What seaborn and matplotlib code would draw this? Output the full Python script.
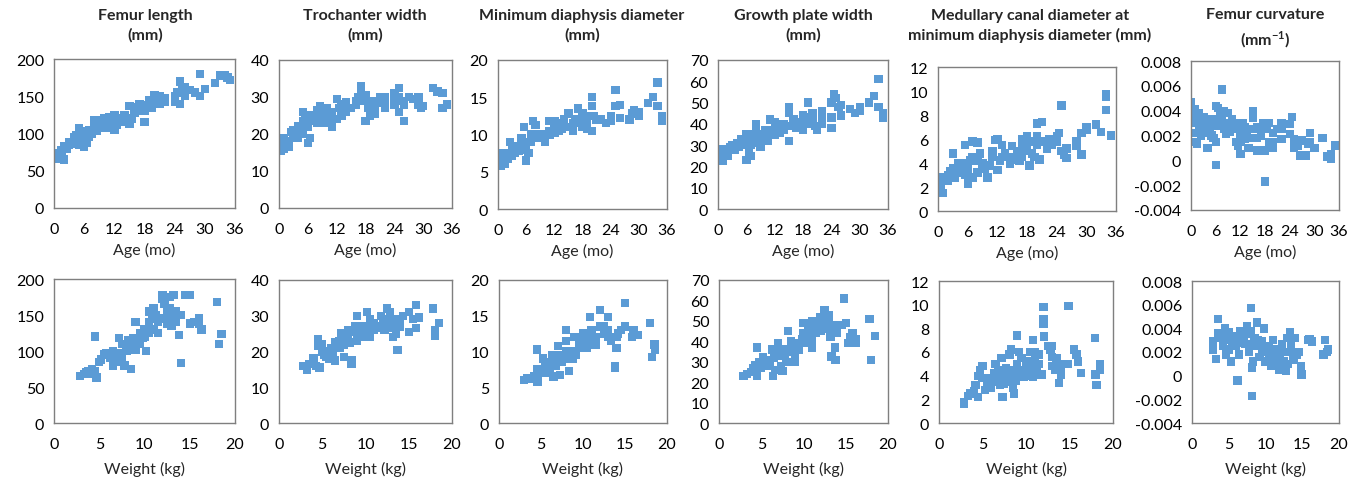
import matplotlib
matplotlib.use("Agg")
import matplotlib.pyplot as plt
import seaborn as sns

# ---------------- data ----------------
titles = ["Femur length\n(mm)", "Trochanter width\n(mm)", "Minimum diaphysis diameter\n(mm)",
          "Growth plate width\n(mm)", "Medullary canal diameter at\nminimum diaphysis diameter (mm)",
          "Femur curvature\n(mm$^{\\mathregular{-1}}$)"]
age_ticks = [0, 6, 12, 18, 24, 30, 36]
weight_ticks = [0, 5, 10, 15, 20]
y_ticks = [[0, 50, 100, 150, 200], [0, 10, 20, 30, 40], [0, 5, 10, 15, 20],
           [0, 10, 20, 30, 40, 50, 60, 70], [0, 2, 4, 6, 8, 10, 12],
           [-0.004, -0.002, 0, 0.002, 0.004, 0.006, 0.008]]
y_ticklabels = [None, None, None, None, None,
                ["-0.004", "-0.002", "0", "0.002", "0.004", "0.006", "0.008"]]

# Femur length
fl_age = [0, 0.5, 1, 1, 1.5, 2, 2, 2.5, 3, 3.5, 4, 4.5, 5, 5, 5, 5.5, 6, 6, 6, 6.5, 7, 7, 7.5, 8, 8, 8.5, 9, 9,
          10, 10, 10.5, 11, 11, 11.5, 12, 12, 12.5, 13, 13.5, 14, 14, 15, 15, 15.5, 16, 16.5, 17, 17.5, 18, 18,
          18.5, 19, 19.5, 20, 20, 21, 22, 22, 24, 24, 24.5, 25, 25, 25.5, 26, 26, 27, 28, 29, 29, 30, 32, 33, 34,
          34.5, 35,
          3, 4, 5.5, 6.5, 7, 8, 9.5, 10, 11, 12.5, 16, 17, 19, 21, 24, 1.5]
fl_age_y = [70, 68, 73, 66, 78, 83, 65, 80, 88, 86, 90, 98, 107, 85, 95, 100, 82, 92, 103, 98, 105, 95, 100, 108,
            113, 103, 118, 110, 120, 115, 112, 118, 107, 122, 125, 105, 118, 120, 115, 125, 118, 137, 113, 120, 135,
            130, 133, 137, 115, 130, 138, 140, 135, 152, 145, 140, 148, 142, 150, 145, 155, 170, 140, 160, 150, 162,
            158, 155, 180, 150, 160, 168, 178, 178, 175, 172,
            85, 95, 90, 88, 100, 118, 115, 108, 122, 112, 128, 140, 145, 150, 142, 70]
fl_wt = [2.9, 3.3, 3.6, 4, 4.2, 4.5, 4.7, 4.5, 5, 5.2, 5.5, 6, 6.2, 6.5, 6.5, 6.8, 7, 7.2, 7.5, 7.5, 7.8, 8, 8.2,
         8.5, 8.5, 8.8, 9, 9, 9.2, 9.5, 9.5, 10, 10, 10.2, 10.5, 10.5, 10.8, 11, 11, 11.2, 11.5, 12, 12, 12, 12.5,
         12.8, 12.8, 13, 13, 13, 13.2, 13.5, 13.5, 13.8, 14, 14, 14.5, 15, 15, 15.5, 16, 16, 16.3, 18, 18.2, 18.5,
         3.8, 5.8, 6.2, 7, 8, 8.5, 9, 9.8, 10.5, 11.5, 12.2, 13.5, 12.5]
fl_wt_y = [65, 68, 70, 68, 75, 120, 63, 72, 85, 88, 95, 95, 90, 100, 80, 85, 97, 118, 110, 92, 80, 100, 115, 75,
           108, 118, 140, 102, 115, 110, 125, 120, 130, 100, 140, 155, 145, 160, 130, 150, 125, 172, 178, 145, 155,
           175, 160, 150, 140, 135, 178, 155, 148, 122, 83, 150, 178, 178, 138, 140, 145, 138, 130, 168, 110, 124,
           72, 97, 92, 90, 105, 112, 108, 118, 125, 140, 165, 140, 138]

# Trochanter width
tw_age = [0, 0.3, 0.5, 1, 1, 1.5, 2, 2.5, 3, 3.5, 4, 4, 4.5, 5, 5, 5, 5.5, 6, 6, 6, 6.5, 7, 7.5, 8, 8, 8.5, 9, 9,
          10, 10, 10.5, 11, 11, 12, 12, 12.5, 13, 13, 14, 14, 15, 16, 16.5, 17, 17, 17.5, 18, 18, 18.5, 19, 19.5,
          20, 20.5, 21, 22, 22, 24, 24, 25, 25, 25.5, 26, 26, 27, 28, 29, 29, 30, 32, 33, 34, 34, 35,
          1, 2, 3, 4, 5.5, 6.5, 7, 8.5, 9.5, 10.5, 11.5, 13, 14, 16, 18.5, 19, 20, 22, 24, 25, 29.5]
tw_age_y = [17, 15.5, 18.5, 16, 19, 17, 18, 20.5, 21, 20, 19, 22, 21, 26, 23.5, 20, 24, 17.5, 22, 25, 19, 23.5, 25,
            26.5, 23, 27.5, 26, 24, 27, 25, 23, 22, 26, 29.5, 24, 27, 28, 25, 28.5, 26, 27, 29, 30, 33, 31.5, 29,
            30.5, 23.5, 27, 25, 29, 27, 28.5, 30, 30, 27, 31, 28, 32.5, 26, 29, 23.5, 28, 30, 29.5, 30, 28, 27.5,
            32.5, 31.5, 31, 27, 28,
            18, 16.5, 19, 20.5, 22, 24, 25, 24.5, 23, 26, 24, 26.5, 27.5, 28, 29, 28, 25.5, 28.5, 29.5, 30, 27]
tw_wt = [2.8, 3.2, 3.5, 4, 4, 4.3, 4.5, 4.5, 4.7, 5, 5.2, 5.5, 5.8, 6, 6.2, 6.5, 6.5, 7, 7.2, 7.5, 7.5, 7.8, 8, 8.2,
         8.4, 8.4, 8.8, 9, 9, 9.2, 9.5, 9.8, 10, 10.2, 10.5, 10.5, 11, 11, 11.5, 11.8, 12, 12.2, 12.5, 12.8, 13, 13,
         13.2, 13.5, 13.5, 13.7, 14, 14.3, 15, 15, 15.5, 15.8, 15.8, 16.2, 17.8, 18, 18, 18.5,
         4, 5, 5.5, 6, 7, 7.5, 8, 8.5, 9, 9.5, 10, 10.8, 11.2, 12, 13, 14]
tw_wt_y = [16, 15, 16.5, 18, 17, 16, 23.5, 21.5, 15.5, 22, 19, 20, 18, 21, 19, 17.5, 22.5, 23, 25, 18.5, 22, 24, 26,
           22.5, 16.5, 17.5, 27, 30, 23, 25, 26, 24, 27, 31, 29, 24, 28, 26, 27, 30, 29, 26, 32, 31, 28, 26.5, 24,
           25, 27.5, 20.5, 29, 30, 25.5, 31, 29, 33, 26.5, 29.5, 32, 26, 24.5, 28,
           16.5, 20, 18.5, 19.5, 21, 23.5, 24, 25.5, 24.5, 27, 25, 28, 26.5, 28, 29, 27]

# Minimum diaphysis diameter
md_age = [0, 0.5, 1, 1, 1.5, 2, 2.5, 3, 3.5, 4, 4.5, 5, 5.5, 5.5, 6, 6, 6.5, 7, 7.5, 7.5, 8, 8.5, 9, 10, 10.5, 11,
          11, 12, 12, 13, 13.5, 14, 15, 15, 16, 16.5, 17, 17.5, 18, 18, 19, 19, 20, 20, 20, 20.5, 22, 23, 24, 24,
          25, 25, 26, 26, 28, 28.5, 29, 30, 30, 32, 33, 34, 34, 35, 35,
          1.5, 2, 3, 4, 5, 6, 7, 8, 9, 10, 11, 12, 13, 14, 16, 18, 19, 21, 24]
md_age_y = [6.3, 5.8, 7.5, 6.5, 7, 6.8, 9, 8, 7.5, 8.5, 7.8, 9.5, 11, 8, 6.5, 9, 7.5, 10, 11.8, 9.5, 11.3, 10, 9.5,
            9, 10, 11.8, 10.5, 11, 10.2, 11.5, 10.8, 12, 12.8, 11, 10.5, 12, 13.5, 11.5, 12.8, 11, 12.5, 11.5, 15,
            13.8, 10.5, 12.5, 12, 11.5, 12, 12.5, 13.8, 16, 14, 12.2, 12, 12.8, 13.2, 12.5, 13, 14.2, 15, 17, 13.8,
            12.5, 11.8,
            6, 7.5, 7.2, 7.8, 8.5, 8, 9, 9.8, 10, 9.5, 10, 11.8, 10.5, 11.2, 11.5, 12, 10.8, 12, 11.8]
md_wt = [3, 3.3, 3.8, 4.2, 4.5, 4.5, 4.6, 5, 5.2, 5.5, 5.8, 6, 6.3, 6.5, 6.8, 7, 7, 7.3, 7.5, 7.8, 8, 8, 8.3, 8.5,
         8.8, 9, 9.2, 9.5, 9.8, 10, 10.2, 10.5, 10.8, 11, 11, 11.5, 12, 12, 12.5, 13, 13, 13.3, 13.5, 13.8, 13.8, 14,
         14.2, 14.5, 15, 15, 15.8, 16, 16.5, 18, 18.2, 18.5, 18.6,
         5.5, 6, 6.5, 7.5, 8, 8.5, 9, 9.5, 10, 10.5, 11, 11.5, 12.5, 13, 14]
md_wt_y = [6, 6.3, 6.2, 6.5, 10.3, 7.5, 5.8, 7, 9, 8, 7.5, 8.5, 9.5, 6.5, 8, 10.8, 9.5, 6.7, 8.5, 9, 13, 11.5, 7.3,
           10, 9, 12, 9.5, 10.5, 11, 12.5, 11, 12, 14.8, 13, 11.5, 12, 15.8, 13.5, 12.5, 14.8, 13, 11.5, 12, 8, 7.7,
           10.5, 12.5, 13, 16.8, 13.5, 12, 13, 12.3, 14, 9.2, 11, 10.3,
           7, 7.5, 8.5, 9.5, 10, 9, 10, 11.5, 11, 10.5, 12.5, 11, 13.5, 12, 12]

# Growth plate width
gp_age = [0, 0.5, 1, 1, 1.5, 2, 2.5, 3, 3.5, 4, 4.5, 5, 5.5, 6, 6, 6.5, 7, 7, 7.5, 8, 8, 8.5, 9, 9.5, 10, 10.5, 11,
          11, 12, 12, 13, 13, 14, 15, 15, 15, 15.5, 16, 16.5, 17, 18, 18, 19, 19, 20, 20, 20.5, 21, 22, 22, 24, 24,
          24, 24.5, 25, 25.5, 26, 26, 28, 29, 30, 30, 32, 33, 34, 34, 35, 35,
          1, 2, 3, 4, 5, 6, 7, 8, 9, 10, 11, 12, 13, 14, 16, 17, 18, 19, 20, 22]
gp_age_y = [23.5, 25, 28, 22.5, 27, 25, 29, 30, 28, 31, 29, 33, 30, 35, 23, 27, 25, 33, 35, 38, 40, 31, 29, 33, 35,
            32, 42, 37, 35, 41, 38, 36, 40, 48, 45, 32, 39, 42, 38, 41, 44, 37, 50, 40, 45, 42, 39, 37, 46, 40, 50,
            43, 38, 54, 52, 48, 44, 49, 47, 45, 48, 46, 50, 53, 61, 48, 45, 43,
            25, 27, 28, 29, 31, 32, 30, 33, 35, 37, 35, 38, 40, 37, 40, 39, 41, 43, 40, 43]
gp_wt = [2.9, 3.3, 3.8, 4, 4.3, 4.5, 4.5, 4.8, 5, 5.2, 5.5, 6, 6.3, 6.4, 6.5, 6.7, 7, 7, 7.3, 7.5, 7.8, 8, 8.2, 8.5,
         8.5, 8.8, 9, 9.2, 9.5, 9.8, 10, 10, 10.3, 10.5, 10.8, 11, 11, 11.5, 12, 12, 12.5, 12.8, 13, 13, 13.2, 13.3,
         13.5, 13.7, 13.8, 14, 14.5, 14.8, 15, 15.3, 15.5, 15.8, 16.2, 16.2, 17.8, 18, 18.5,
         5, 5.5, 6, 7, 7.5, 8, 8.5, 9, 9.5, 10, 10.5, 11, 11.5, 12, 12.5, 13, 9]
gp_wt_y = [23, 24, 25, 27, 28.5, 37, 23, 30, 27, 32, 30, 28, 36, 23, 32, 26, 35, 39, 28, 25.5, 33, 36, 45, 40, 30,
           35, 32, 38, 36, 41, 49, 44, 39, 47, 42, 50, 37, 44, 52, 49, 55, 50, 53, 46, 42, 32.5, 48, 37, 31, 44, 48,
           61, 49, 39, 42, 44, 39, 41, 51, 31, 42.5,
           29, 28, 31, 33, 35, 30, 37, 35, 39, 40, 43, 40, 46, 45, 49, 50, 30]

# Medullary canal diameter
mc_age = [0, 0.5, 1, 1, 1.5, 2, 2.5, 3, 3, 3.5, 4, 4.5, 5, 5.5, 5.5, 6, 6, 6.5, 7, 7, 7.5, 8, 8, 8.5, 9, 9.5, 10,
          10.5, 11, 11.5, 12, 12, 12.5, 13, 13.5, 14, 14.5, 15, 15.5, 16, 16.5, 17, 17, 17.5, 18, 18, 18.5, 19, 19.5,
          20, 20, 20.5, 21, 21, 22, 22.5, 23, 24, 24, 24.5, 25, 25, 25.5, 26, 26, 28, 28, 29, 29, 30, 30, 32, 33, 34,
          34, 34, 35,
          2, 3, 4, 5, 6, 7, 8, 9, 10, 11, 13, 15, 16, 17, 18, 19, 20, 22]
mc_age_y = [2.6, 2.2, 1.5, 2.8, 2.5, 3, 3.3, 4.8, 3.6, 2.8, 4, 3.5, 3.8, 5.5, 3, 2.3, 3.5, 4.2, 5.8, 2.8, 4.5, 5.7,
            3.2, 4.8, 4, 3.5, 2.8, 3.8, 4.5, 5.9, 6, 3.4, 4.2, 5.5, 4.8, 4.5, 3.9, 5.4, 4.3, 4.8, 4.2, 6, 4.5, 5.2,
            6.2, 5, 3.8, 5.8, 4.5, 7.3, 6.2, 4.3, 7.4, 5.8, 5.2, 6, 5.5, 6.2, 5.8, 6.5, 8.8, 5, 4.7, 5.2, 4.4, 5.8,
            5.4, 6.5, 4.7, 7, 6.8, 7.2, 6.6, 9.7, 9.5, 8.4, 6.3,
            2.5, 3, 3.2, 4, 4, 4.5, 4.2, 3.5, 3.8, 5, 4.5, 4.5, 5, 5.5, 5.5, 4.8, 5.5, 5.8]
mc_wt = [2.9, 2.9, 3.3, 3.6, 4, 4.2, 4.5, 4.5, 4.7, 5, 5, 5.3, 5.5, 5.8, 6, 6.3, 6.5, 6.5, 6.8, 7, 7.2, 7.3, 7.5,
         7.7, 8, 8.1, 8.3, 8.5, 8.6, 8.8, 9, 9, 9.2, 9.5, 9.8, 10, 10.2, 10.5, 10.8, 10.8, 11, 11.2, 11.5, 11.8, 12,
         12, 12, 12.1, 12.5, 12.8, 13, 13, 13.3, 13.5, 13.8, 14, 14.2, 14.8, 14.9, 15.5, 15.8, 16, 16.3, 17.9, 18,
         18.1, 18.5, 18.5,
         5.5, 6, 7, 7.5, 8, 8.5, 9, 9.5, 10, 10.5, 11, 11.5, 13, 13.5, 14]
mc_wt_y = [1.8, 1.6, 2.3, 2.5, 2.7, 3.2, 2.2, 4, 4.5, 4.8, 3.8, 2.8, 3.3, 3, 3.6, 4.2, 5, 3.5, 4.5, 3.2, 5.5, 2.2,
           3.8, 4.6, 4, 5.8, 6.2, 3, 2.5, 3.6, 7.4, 4.2, 6, 5.5, 3.9, 5, 4.5, 6, 7, 3.9, 5.5, 4.5, 5, 4.1, 9.8, 8.8,
           8.4, 7.3, 6.5, 6.2, 5.6, 4.8, 4.5, 5.5, 3.4, 4.1, 5, 5, 9.9, 6.2, 5.8, 5.2, 4.2, 7.2, 4.1, 3.2, 4.5, 5,
           3.8, 3, 4, 3.3, 3.5, 4.5, 5, 4.5, 4, 5.2, 6, 5.8, 6.5, 5, 4.5]

# Femur curvature
fc_age = [0, 0, 0.5, 0.5, 1, 1, 1.5, 1.5, 2, 2, 2.5, 3, 3, 3.5, 4, 4.5, 5, 5, 5.5, 6, 6, 6, 6.5, 7, 7, 7.5, 7.5, 8,
          8, 8.5, 9, 9, 9.5, 10, 10.5, 11, 11, 11.5, 12, 12, 12.5, 13, 13.5, 14, 14, 15, 15, 15, 16, 16, 17, 17.5,
          18, 18, 18.5, 19, 19, 20, 20, 21, 22, 22, 24, 24, 24.5, 25, 25, 26, 26.5, 27, 28, 28.5, 29, 29, 30, 32,
          33, 34, 34, 35,
          1, 2, 3, 4, 5, 7, 8, 9, 10, 11, 12, 13, 14, 16, 17, 18, 19, 20, 22, 25]
fc_age_y = [0.0047, 0.0036, 0.0030, 0.0022, 0.0041, 0.0015, 0.0033, 0.0013, 0.0038, 0.0025, 0.0020, 0.0035, 0.0028,
            0.0031, 0.0010, 0.0025, 0.0033, 0.0020, 0.0018, 0.0044, 0.0015, -0.0004, 0.0042, 0.0028, 0.0037, 0.0057,
            0.0032, 0.0040, 0.0025, 0.0021, 0.0038, 0.0030, 0.0023, 0.0033, 0.0028, 0.0025, 0.0015, 0.0012, 0.0005,
            0.0020, 0.0030, 0.0027, 0.0022, 0.0010, 0.0018, 0.0040, 0.0034, 0.0025, 0.0008, 0.0018, 0.0023, 0.0030,
            -0.0017, 0.0008, 0.0025, 0.0030, 0.0015, 0.0022, 0.0010, 0.0025, 0.0030, 0.0017, 0.0029, 0.0021, 0.0035,
            0.0017, 0.0010, 0.0012, 0.0004, 0.0016, 0.0004, 0.0013, 0.0022, 0.0015, 0.0010, 0.0018, 0.0003, 0.0001,
            0.0005, 0.0012,
            0.0032, 0.0030, 0.0022, 0.0027, 0.0028, 0.0033, 0.0030, 0.0024, 0.0025, 0.0030, 0.0015, 0.0017, 0.0025,
            0.0027, 0.0020, 0.0028, 0.0012, 0.0015, 0.0025, 0.0015]
fc_wt = [2.9, 2.9, 3.3, 3.5, 3.6, 4, 4.2, 4.5, 4.6, 4.8, 5, 5, 5.3, 5.5, 5.8, 6, 6.2, 6.4, 6.5, 6.8, 7, 7.3, 7.5,
         7.8, 8, 8, 8.2, 8.2, 8.3, 8.5, 8.8, 9, 9.2, 9.5, 9.8, 10, 10.2, 10.5, 10.8, 11, 11, 11.5, 11.8, 12, 12.2,
         12.5, 12.8, 13, 13, 13.3, 13.5, 13.8, 14, 14.2, 14.5, 14.8, 14.9, 15.8, 16, 16.3, 17.9, 18.1, 18.4, 18.5,
         5, 6, 6.5, 7, 7.5, 8.5, 9, 9.5, 10, 10.5, 11, 11.5, 12, 12.5, 13]
fc_wt_y = [0.0029, 0.0022, 0.0014, 0.0048, 0.0036, 0.0032, 0.0025, 0.0040, 0.0018, 0.0033, 0.0037, 0.0022, 0.0012,
           0.0028, 0.0033, 0.0025, -0.0004, 0.0018, 0.0038, 0.0030, 0.0035, 0.0027, 0.0042, 0.0020, 0.0057, 0.0038,
           0.0007, -0.0017, 0.0012, 0.0032, 0.0045, 0.0025, 0.0016, 0.0029, 0.0040, 0.0012, 0.0020, 0.0025, 0.0008,
           0.0030, 0.0015, 0.0022, 0.0005, 0.0018, 0.0027, 0.0012, 0.0004, 0.0032, 0.0020, 0.0037, 0.0025, 0.0013,
           0.0032, 0.0018, 0.0020, 0.0008, 0.0001, 0.0030, 0.0031, 0.0029, 0.0018, 0.0030, 0.0020, 0.0022,
           0.0030, 0.0032, 0.0028, 0.0032, 0.0035, 0.0025, 0.0030, 0.0020, 0.0022, 0.0016, 0.0022, 0.0012, 0.0010,
           0.0020, 0.0010]

top_data = [(fl_age, fl_age_y), (tw_age, tw_age_y), (md_age, md_age_y),
            (gp_age, gp_age_y), (mc_age, mc_age_y), (fc_age, fc_age_y)]
bottom_data = [(fl_wt, fl_wt_y), (tw_wt, tw_wt_y), (md_wt, md_wt_y),
               (gp_wt, gp_wt_y), (mc_wt, mc_wt_y), (fc_wt, fc_wt_y)]

# ---------------- drawing ----------------
sns.set_theme(style="white")
plt.rcParams['font.family'] = ['Lato', 'DejaVu Sans']
plt.rcParams['mathtext.fontset'] = 'custom'
plt.rcParams['mathtext.rm'] = 'Lato'

W, H = 1348, 481
fig = plt.figure(figsize=(W / 100, H / 100), dpi=100)
fig.patch.set_facecolor('white')

# pixel boxes: left, right, top, bottom
top_boxes = [(54, 235, 60, 209), (279, 452, 61, 209), (498, 667, 61, 210),
             (718, 888, 61, 210), (938, 1116, 68, 212), (1191, 1339, 62, 211)]
bot_boxes = [(54, 235, 280, 424), (279, 452, 281, 424), (499, 667, 281, 424),
             (719, 888, 281, 424), (939, 1113, 282, 424), (1192, 1339, 282, 424)]
title_cx = [145, 365, 582, 803, 1030, 1265]
title_cy = [26, 26, 26, 26, 26, 29]

COLOR = '#5B9BD5'
AXC = '#7F7F7F'


def make_ax(box):
    l, r, t, b = box
    return fig.add_axes([l / W, 1 - b / H, (r - l) / W, (b - t) / H])


def style(ax, xticks, yt, ytl):
    ax.set_xlim(xticks[0], xticks[-1])
    ax.set_ylim(yt[0], yt[-1])
    ax.set_xticks(xticks)
    ax.set_yticks(yt)
    if ytl is not None:
        ax.set_yticklabels(ytl)
    for sp in ax.spines.values():
        sp.set_visible(True)
        sp.set_color(AXC)
        sp.set_linewidth(1.0)
    ax.tick_params(axis='both', direction='out', length=4, width=1, color=AXC,
                   labelsize=11.5, labelcolor='black', pad=3)
    ax.tick_params(axis='x', pad=6)
    ax.set_facecolor('white')


for i in range(6):
    ax = make_ax(top_boxes[i])
    x, y = top_data[i]
    sns.scatterplot(x=x, y=y, ax=ax, marker='s', s=36, color=COLOR,
                    edgecolor='none', linewidth=0, legend=False)
    style(ax, age_ticks, y_ticks[i], y_ticklabels[i])
    ax.set_xlabel("Age (mo)", fontsize=11.5, labelpad=4)
    ax.set_ylabel("")
    fig.text(title_cx[i] / W, 1 - title_cy[i] / H, titles[i], ha='center', va='center',
             fontsize=11.5, fontweight='bold', linespacing=1.45)

    ax2 = make_ax(bot_boxes[i])
    x, y = bottom_data[i]
    sns.scatterplot(x=x, y=y, ax=ax2, marker='s', s=36, color=COLOR,
                    edgecolor='none', linewidth=0, legend=False)
    style(ax2, weight_ticks, y_ticks[i], y_ticklabels[i])
    ax2.set_xlabel("Weight (kg)", fontsize=11.5, labelpad=7)
    ax2.set_ylabel("")

fig.savefig("out.png", dpi=100, facecolor='white')
